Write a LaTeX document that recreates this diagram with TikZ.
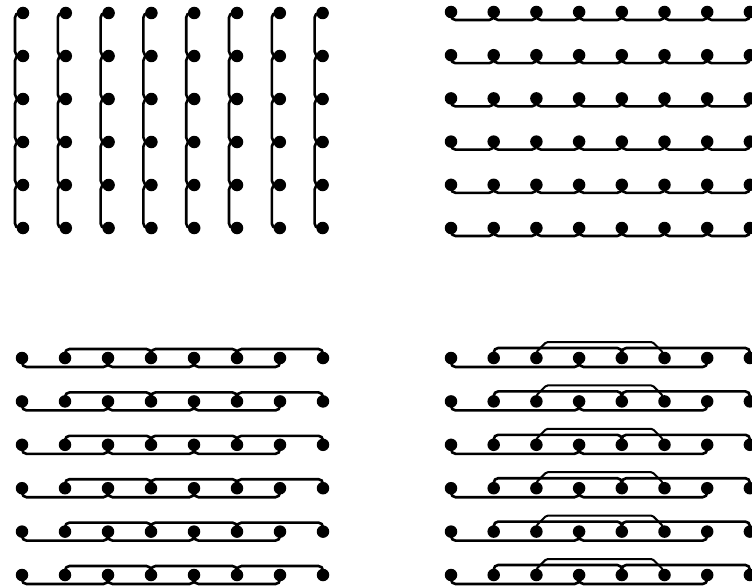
\documentclass[tikz,border=0pt]{standalone}
\usetikzlibrary{calc}
\tikzset{
  dot/.style={circle,fill=black,inner sep=0pt,minimum size=12.5pt},
  link/.style={line width=2.6pt,rounded corners=4.5pt},
  hop/.style={line width=2pt,rounded corners=1.5pt}
}
\begin{document}
\begin{tikzpicture}[x=1pt,y=-1pt]
\useasboundingbox (0,0) rectangle (752,586);
\foreach \c in {0,...,7}{
  \foreach \r in {0,...,5}{
    \node[dot] (tl-\c-\r) at ({23+42.8*\c},{13+43*\r}) {};
    \node[dot] (tr-\c-\r) at ({451+42.7*\c},{12+43.2*\r}) {};
    \node[dot] (bl-\c-\r) at ({22+43*\c},{358+43.4*\r}) {};
    \node[dot] (br-\c-\r) at ({451+42.7*\c},{358+43.4*\r}) {};
  }
}
% top-left: vertical chains
\foreach \c in {0,...,7}{
  \foreach \r in {0,...,4}{
    \pgfmathtruncatemacro{\rn}{\r+1}
    \draw[link] (tl-\c-\r.center) -- ++(-8,0) |- (tl-\c-\rn.center);
  }
}
% top-right: horizontal chains
\foreach \r in {0,...,5}{
  \foreach \c in {0,...,6}{
    \pgfmathtruncatemacro{\cn}{\c+1}
    \draw[link] (tr-\c-\r.center) -- ++(0,8) -| (tr-\cn-\r.center);
  }
}
% bottom-left: skip-two chains
\foreach \r in {0,...,5}{
  \foreach \c in {0,2,4}{
    \pgfmathtruncatemacro{\cn}{\c+2}
    \draw[link] (bl-\c-\r.center) -- ++(0,9) -| (bl-\cn-\r.center);
  }
  \foreach \c in {1,3,5}{
    \pgfmathtruncatemacro{\cn}{\c+2}
    \draw[link] (bl-\c-\r.center) -- ++(0,-9) -| (bl-\cn-\r.center);
  }
}
% bottom-right: skip-three chains
\foreach \r in {0,...,5}{
  \foreach \c in {0,3}{
    \pgfmathtruncatemacro{\cn}{\c+3}
    \draw[link] (br-\c-\r.center) -- ++(0,9) -| (br-\cn-\r.center);
  }
  \foreach \c in {1,4}{
    \pgfmathtruncatemacro{\cn}{\c+3}
    \draw[link] (br-\c-\r.center) -- ++(0,-10) -| (br-\cn-\r.center);
  }
  \draw[hop] (br-2-\r.center) -- ++(0,-6) -- ++(10,-10)
    -- ($(br-5-\r.center)+(-12,-16)$) -- ($(br-5-\r.center)+(-2,-6)$)
    -- (br-5-\r.center);
}
\end{tikzpicture}
\end{document}
